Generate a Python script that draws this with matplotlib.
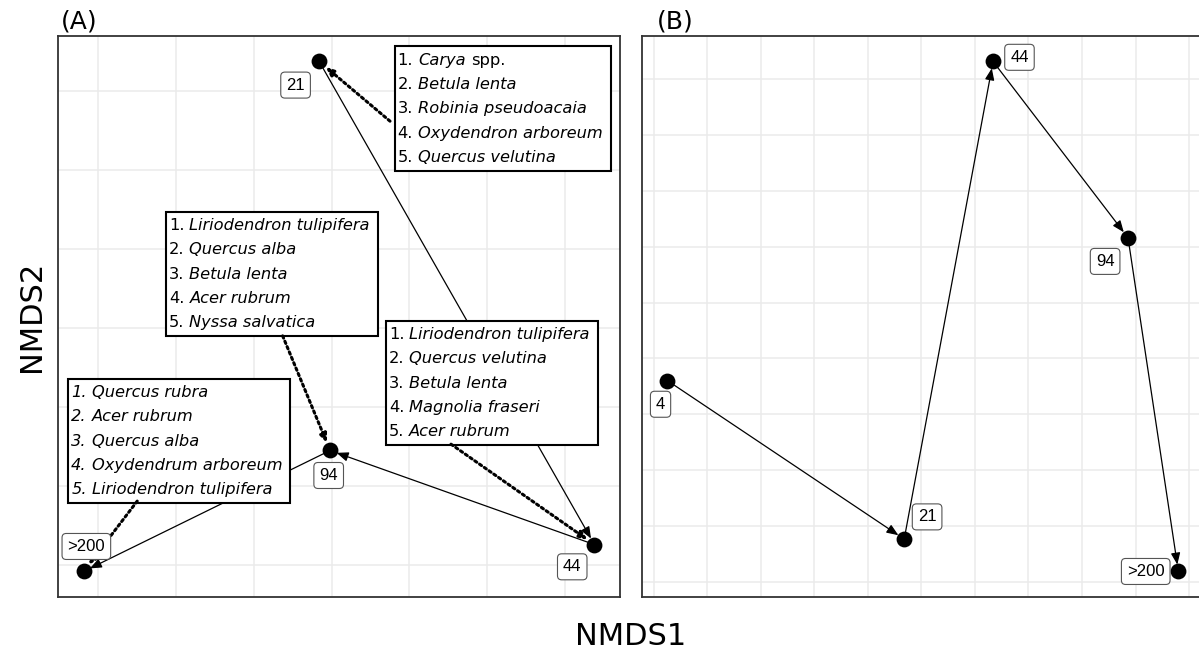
import matplotlib
matplotlib.use("Agg")
from matplotlib import pyplot as plt
from matplotlib.patches import FancyArrowPatch, Rectangle
from matplotlib.transforms import Bbox
import numpy as np

plt.rcParams['font.family'] = ['DejaVu Sans']

# Panel A: NMDS scores of the sites, in trajectory order
a_labels = ["21", "44", "94", ">200"]
a_x = [-0.016, 0.338, -0.002, -0.319]
a_y = [0.337, -0.274, -0.155, -0.308]

# top five species for each site of panel A (same order as a_labels)
a_species = [
    ["Carya spp.", "Betula lenta", "Robinia pseudoacaia", "Oxydendron arboreum", "Quercus velutina"],
    ["Liriodendron tulipifera", "Quercus velutina", "Betula lenta", "Magnolia fraseri", "Acer rubrum"],
    ["Liriodendron tulipifera", "Quercus alba", "Betula lenta", "Acer rubrum", "Nyssa salvatica"],
    ["Quercus rubra", "Acer rubrum", "Quercus alba", "Oxydendrum arboreum", "Liriodendron tulipifera"],
]

# Panel B
b_labels = ["4", "21", "44", "94", ">200"]
b_x = [-0.374, 0.068, 0.234, 0.486, 0.580]
b_y = [-0.120, -0.262, 0.166, 0.008, -0.291]

# layout of the annotations (offsets in points, box corners in data units)
a_label_off = [(-17, -17), (-16, -16), (-1, -18), (2, 18)]
a_box_corner = [(0.0811, 0.3561), (0.070, 0.009), (-0.2129, 0.1468), (-0.3385, -0.0642)]
a_box_link = [(0.0751, 0.2615), (0.1535, -0.147), (-0.063, -0.010), (-0.250, -0.219)]
a_box_all_italic = [False, False, False, True]
b_label_off = [(-5, -17), (16.5, 16), (19, 3), (-16.5, -17), (-23.5, 0)]

BOX_FS = 11.7
LINE_STEP = 17.5   # points between the lines of a species box
SPACE = 3.7        # width of a blank in the box font


def expand(v, frac=0.05):
    lo, hi = min(v), max(v)
    pad = (hi - lo) * frac
    return lo - pad, hi + pad


def pieces_of(i, name):
    # number in upright type, latin names in italics, "spp." upright
    out = [("%d." % i, False)]
    words = name.split()
    if words[-1] == "spp.":
        out.append((" ".join(words[:-1]), True))
        out.append(("spp.", False))
    else:
        out.append((name, True))
    return out


def arrow(ax, p, q, dotted=False, shrink=5, z=2):
    if dotted:
        ls, lw = (0, (0.8, 1.1)), 2.2
        style = '-|>,head_length=0.35,head_width=0.15'
    else:
        ls, lw = '-', 0.9
        style = '-|>,head_length=0.5,head_width=0.2'
    a = FancyArrowPatch(p, q, arrowstyle=style, mutation_scale=14, shrinkA=0, shrinkB=shrink,
                        color='black', lw=lw, linestyle=ls, zorder=z)
    ax.add_patch(a)


def style_axes(ax, xgrid, ygrid):
    ax.set_xticks(xgrid)
    ax.set_yticks(ygrid)
    ax.grid(color='#EBEBEB', lw=1.1)
    ax.set_axisbelow(True)
    ax.tick_params(length=0, labelbottom=False, labelleft=False)
    for s in ax.spines.values():
        s.set_color('#333333')
        s.set_linewidth(1.3)


def site_label(ax, text, x, y, off):
    ax.annotate(text, (x, y), xytext=off, textcoords='offset points', ha='center', va='center',
                fontsize=12, family='Liberation Sans', zorder=6,
                bbox=dict(boxstyle='round,pad=0.33,rounding_size=0.25', fc='white', ec='#555555', lw=0.8))


def species_box(ax, corner, names, all_italic):
    arts = []
    for j, name in enumerate(names):
        prev = None
        for text, ital in pieces_of(j + 1, name):
            st = 'italic' if (ital or all_italic) else 'normal'
            if prev is None:
                t = ax.annotate(text, corner, xytext=(2, -4.5 - j * LINE_STEP), textcoords='offset points',
                                ha='left', va='top', fontsize=BOX_FS, fontstyle=st, zorder=4)
            else:
                t = ax.annotate(text, (1, 0), xycoords=prev, xytext=(SPACE, 0), textcoords='offset points',
                                ha='left', va='bottom', fontsize=BOX_FS, fontstyle=st, zorder=4)
            arts.append(t)
            prev = t
    return arts


fig = plt.figure(figsize=(11.99, 6.53), dpi=100)
axA = fig.add_axes([0.0484, 0.0858, 0.4687, 0.8591])
axB = fig.add_axes([0.5354, 0.0858, 0.4687, 0.8591])

# ---- panel A
style_axes(axA, np.arange(-0.3, 0.31, 0.1), np.arange(-0.3, 0.31, 0.1))
axA.set_xlim(*expand(a_x))
axA.set_ylim(*expand(a_y))
for i in range(len(a_x) - 1):
    arrow(axA, (a_x[i], a_y[i]), (a_x[i + 1], a_y[i + 1]))
box_texts = []
for k, spp in enumerate(a_species):
    box_texts.append(species_box(axA, a_box_corner[k], spp, a_box_all_italic[k]))
    arrow(axA, a_box_link[k], (a_x[k], a_y[k]), dotted=True, shrink=6, z=4)
axA.scatter(a_x, a_y, s=130, c='black', zorder=5, linewidths=0)
for k, lab in enumerate(a_labels):
    site_label(axA, lab, a_x[k], a_y[k], a_label_off[k])

# ---- panel B
style_axes(axB, np.arange(-0.4, 0.61, 0.1), np.arange(-0.3, 0.16, 0.05))
axB.set_xlim(*expand(b_x))
axB.set_ylim(*expand(b_y))
for i in range(len(b_x) - 1):
    arrow(axB, (b_x[i], b_y[i]), (b_x[i + 1], b_y[i + 1]))
axB.scatter(b_x, b_y, s=130, c='black', zorder=5, linewidths=0)
for k, lab in enumerate(b_labels):
    site_label(axB, lab, b_x[k], b_y[k], b_label_off[k])

fig.text(0.0509, 0.9556, "(A)", fontsize=18, va='baseline', ha='left')
fig.text(0.548, 0.9556, "(B)", fontsize=18, va='baseline', ha='left')
fig.text(0.5263, 0.0123, "NMDS1", fontsize=22, va='baseline', ha='center')
fig.text(0.026, 0.5153, "NMDS2", fontsize=22, va='center', ha='center', rotation=90)

# frames round the species lists, sized on the drawn text
fig.canvas.draw()
r = fig.canvas.get_renderer()
inv = axA.transData.inverted()
for k, arts in enumerate(box_texts):
    bb = Bbox.union([a.get_window_extent(r) for a in arts])
    x0, y1 = axA.transData.transform(a_box_corner[k])
    x1 = bb.x1 + 8
    y0 = bb.y0 - 6
    (dx0, dy0), (dx1, dy1) = inv.transform([(x0, y0), (x1, y1)])
    axA.add_patch(Rectangle((dx0, dy0), dx1 - dx0, dy1 - dy0, fc='white', ec='black', lw=1.5, zorder=3))

fig.savefig("out.png", dpi=100)
